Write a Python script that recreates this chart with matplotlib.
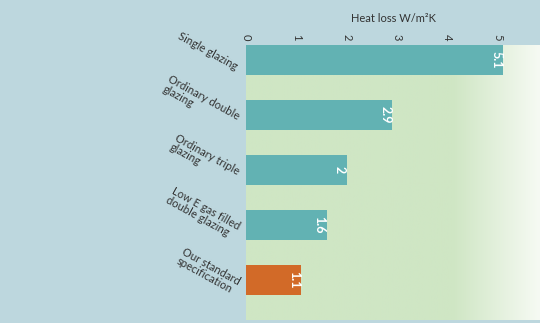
import numpy as np
import matplotlib.pyplot as plt
import matplotlib.transforms as mtransforms
from matplotlib.colors import LinearSegmentedColormap

categories = [
    "Single glazing",
    "Ordinary double\nglazing",
    "Ordinary triple\nglazing",
    "Low E gas filled\ndouble glazing",
    "Our standard\nspecification",
]
values = [5.1, 2.9, 2.0, 1.6, 1.1]
value_labels = ["5.1", "2.9", "2", "1.6", "1.1"]
ticks = [0, 1, 2, 3, 4, 5]

BG = "#bdd7de"
GREEN = "#cfe6c4"
TEAL = "#62b2b3"
ORANGE = "#d26a28"
TXT = "#333333"

plt.rcParams["font.family"] = ["Lato", "DejaVu Sans"]

fig = plt.figure(figsize=(5.4, 3.23), dpi=100, facecolor=BG)
ax = fig.add_axes([246 / 540, 3 / 323, 294 / 540, 275 / 323])

xmax = 5.83
ymin, ymax = 4.73, -0.273
ax.set_xlim(0, xmax)
ax.set_ylim(ymin, ymax)

# background green fading to white on the right
grad = np.linspace(0, 1, 300)
frac = np.clip((grad * xmax - 4.1) / (xmax - 4.1), 0, 1)
cmap = LinearSegmentedColormap.from_list("g", [GREEN, "#f6faf3"])
ax.imshow(frac[np.newaxis, :], cmap=cmap, aspect="auto",
          extent=[0, xmax, ymin, ymax], zorder=0, vmin=0, vmax=1)

colors = [TEAL] * 4 + [ORANGE]
y = np.arange(len(values))
ax.barh(y, values, height=0.55, color=colors, zorder=2)

for yi, v, lab in zip(y, values, value_labels):
    ax.text(v - 0.14, yi, lab, rotation=-90, ha="center", va="center",
            color="white", fontsize=9, fontweight="bold", zorder=3)

ax.set_yticks(y)
ax.set_yticklabels(categories, rotation=-29, ha="right", va="center",
                   rotation_mode="anchor", fontsize=8, color=TXT,
                   multialignment="left", linespacing=0.95)
ax.tick_params(axis="y", length=0, pad=7)
# nudge the slanted labels down a little
shift = mtransforms.ScaledTranslation(0, -7 / 100, fig.dpi_scale_trans)
for lbl in ax.get_yticklabels():
    lbl.set_transform(lbl.get_transform() + shift)

ax.xaxis.tick_top()
ax.xaxis.set_label_position("top")
ax.set_xticks(ticks)
ax.set_xticklabels([str(t) for t in ticks], rotation=-90, fontsize=8, color=TXT)
ax.tick_params(axis="x", length=0, pad=3)
ax.set_xlabel("Heat loss W/m²K", fontsize=8, color=TXT, labelpad=9)

for s in ax.spines.values():
    s.set_visible(False)

fig.savefig("out.png", dpi=100, facecolor=BG)
